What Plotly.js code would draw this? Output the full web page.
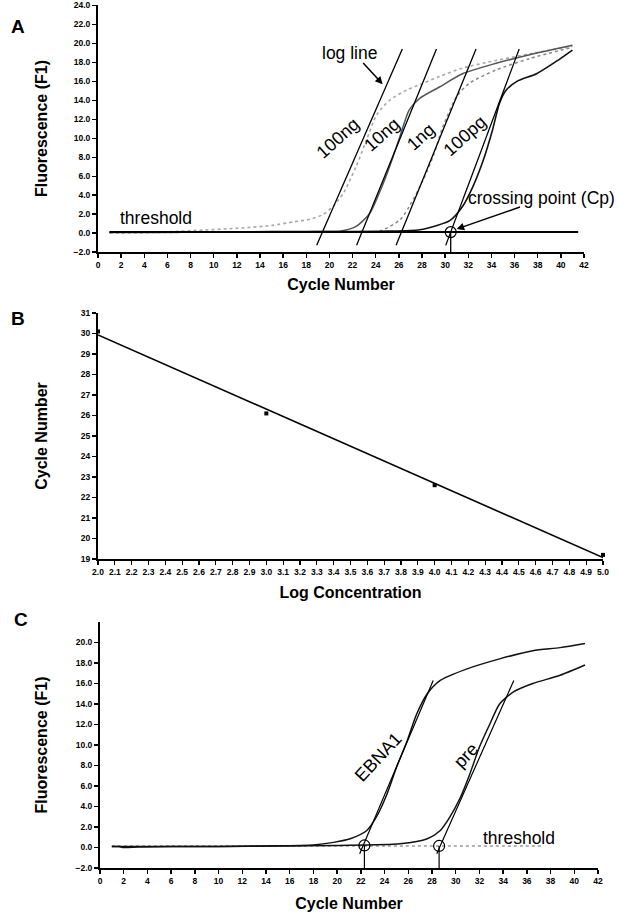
<!DOCTYPE html>
<html>
<head>
<meta charset="utf-8">
<script src="https://cdn.plot.ly/plotly-3.0.1.min.js"></script>
<style>
html,body{margin:0;padding:0;background:#fff;}
#chart{width:619px;height:918px;}
</style>
</head>
<body>
<div id="chart"></div>
<script>
// ---------- Panel A: amplification curves (cycle vs fluorescence) ----------
const cycA_100ng = [1, 4, 8, 12, 15, 17, 18.3, 19.45, 20.3, 21.2, 22.3, 23.2, 24.1, 25.2, 26.7, 28.1, 29.5, 31.5, 34.4, 37.3, 41];
const fA_100ng   = [0, 0.05, 0.25, 0.5, 0.8, 1.2, 1.45, 1.95, 2.8, 4.2, 7.0, 9.8, 12.5, 14.0, 15.1, 15.8, 16.5, 17.4, 18.2, 18.9, 19.7];
const cycA_10ng  = [1, 5, 10, 15, 19, 20.9, 22.3, 23.5, 24.3, 25.2, 26.1, 26.9, 27.8, 29.5, 31.5, 34.4, 37.3, 41];
const fA_10ng    = [0.05, 0.05, 0.1, 0.1, 0.15, 0.2, 0.7, 2.1, 4.2, 7.0, 10.2, 13.0, 14.2, 15.4, 16.8, 17.9, 18.8, 19.8];
const cycA_1ng   = [1, 5, 10, 15, 20, 24.3, 26.1, 26.9, 28.1, 29.0, 29.8, 31.0, 32.1, 34.4, 37.3, 41];
const fA_1ng     = [0.05, 0.05, 0.1, 0.1, 0.15, 0.2, 1.4, 2.8, 5.6, 8.2, 11.2, 14.4, 15.8, 17.2, 18.4, 19.6];
const cycA_100pg = [1, 5, 10, 15, 20, 25, 27.8, 29.3, 30.4, 31.5, 32.4, 33.3, 34.1, 34.7, 35.3, 36.2, 37.9, 39.6, 41];
const fA_100pg   = [0.1, 0.1, 0.1, 0.15, 0.15, 0.2, 0.35, 0.8, 1.3, 2.8, 4.9, 7.7, 10.9, 13.7, 15.1, 16.0, 16.8, 18.1, 19.3];
const thresholdA_cyc = [1, 41.5];
const thresholdA_f   = [0.1, 0.1];
const logLineA_start = [18.9, 22.35, 25.76, 30.05];
const logLineA_end   = [26.3, 29.25, 32.67, 36.4];
const logLineA_f     = [-1.3, 19.4];
const logLineA_names = ['100ng', '10ng', '1ng', '100pg'];
const cpA_cyc = 30.48, cpA_f = 0.1;
const tickValsA_y = [-2, 0, 2, 4, 6, 8, 10, 12, 14, 16, 18, 20, 22, 24];

// ---------- Panel B: standard curve ----------
const logConc  = [2.0, 3.0, 4.0, 5.0];
const cpCycle  = [30.1, 26.1, 22.6, 19.2];

// ---------- Panel C ----------
const cycC_EBNA1 = [1, 1.6, 2, 3.2, 6, 10, 14, 18, 19.7, 21.1, 22.5, 23.3, 24.2, 25.0, 25.9, 26.7, 27.6, 28.7, 30.9, 33.7, 36.5, 38.8, 40.9];
const fC_EBNA1   = [0.1, 0.1, 0.0, 0.05, 0.1, 0.1, 0.15, 0.25, 0.5, 0.85, 1.66, 2.96, 5.2, 7.8, 10.4, 13.0, 15.0, 16.3, 17.4, 18.4, 19.2, 19.5, 19.9];
const cycC_pre   = [1, 5, 10, 15, 20, 25.3, 27.6, 28.7, 29.5, 30.4, 31.2, 32.0, 32.9, 33.7, 34.9, 36.5, 38.8, 40.9];
const fC_pre     = [0.1, 0.1, 0.1, 0.15, 0.2, 0.36, 0.85, 1.66, 2.96, 4.9, 7.2, 9.8, 12.1, 14.0, 15.2, 16.0, 16.8, 17.8];
const logLineC_start = [21.9, 28.4];
const logLineC_end   = [28.1, 34.9];
const logLineC_f     = [-0.6, 16.3];
const cpC_cyc = [22.3, 28.6];
const cpC_f   = [0.2, 0.15];
const thresholdC_cyc = [1, 37.4];
const thresholdC_f   = [0.15, 0.15];
const tickValsC_y = [-2, 0, 2, 4, 6, 8, 10, 12, 14, 16, 18, 20];

// least-squares fit for panel B
function linfit(xs, ys){
  const n = xs.length;
  const mx = xs.reduce((a,b)=>a+b,0)/n, my = ys.reduce((a,b)=>a+b,0)/n;
  let sxy=0, sxx=0;
  for(let i=0;i<n;i++){ sxy+=(xs[i]-mx)*(ys[i]-my); sxx+=(xs[i]-mx)**2; }
  const m = sxy/sxx; return {m:m, b:my-m*mx};
}
const fit = linfit(logConc, cpCycle);
const fitX = [logConc[0], logConc[logConc.length-1]];
const fitY = fitX.map(x=>fit.m*x+fit.b);

const traces = [];
// A
traces.push({x:cycA_100ng, y:fA_100ng, mode:'lines', line:{color:'#a8a8a8', width:1.6, dash:'dot', shape:'spline', smoothing:0.7}, xaxis:'x', yaxis:'y'});
traces.push({x:cycA_10ng, y:fA_10ng, mode:'lines', line:{color:'#555', width:1.5, shape:'spline', smoothing:0.7}, xaxis:'x', yaxis:'y'});
traces.push({x:cycA_1ng, y:fA_1ng, mode:'lines', line:{color:'#888', width:1.5, dash:'dot', shape:'spline', smoothing:0.7}, xaxis:'x', yaxis:'y'});
traces.push({x:cycA_100pg, y:fA_100pg, mode:'lines', line:{color:'#111', width:1.6, shape:'spline', smoothing:0.7}, xaxis:'x', yaxis:'y'});
traces.push({x:thresholdA_cyc, y:thresholdA_f, mode:'lines', line:{color:'#000', width:2}, xaxis:'x', yaxis:'y'});
for(let i=0;i<logLineA_start.length;i++){
  traces.push({x:[logLineA_start[i], logLineA_end[i]], y:logLineA_f, mode:'lines', line:{color:'#000', width:1.3}, xaxis:'x', yaxis:'y', name:logLineA_names[i]});
}
traces.push({x:[cpA_cyc, cpA_cyc], y:[cpA_f, -2], mode:'lines', line:{color:'#000', width:1.3}, xaxis:'x', yaxis:'y'});
traces.push({x:[cpA_cyc], y:[cpA_f], mode:'markers', marker:{symbol:'circle-open', size:11, color:'#000', line:{width:1.2}}, xaxis:'x', yaxis:'y'});
// B
traces.push({x:fitX, y:fitY, mode:'lines', line:{color:'#000', width:1.6}, xaxis:'x2', yaxis:'y2', cliponaxis:false});
traces.push({x:logConc, y:cpCycle, mode:'markers', marker:{symbol:'square', size:4, color:'#000'}, xaxis:'x2', yaxis:'y2', cliponaxis:false});
// C
traces.push({x:thresholdC_cyc, y:thresholdC_f, mode:'lines', line:{color:'#999', width:1.5, dash:'dot'}, xaxis:'x3', yaxis:'y3'});
traces.push({x:cycC_EBNA1, y:fC_EBNA1, mode:'lines', line:{color:'#111', width:1.5, shape:'spline', smoothing:0.7}, xaxis:'x3', yaxis:'y3'});
traces.push({x:cycC_pre, y:fC_pre, mode:'lines', line:{color:'#111', width:1.5, shape:'spline', smoothing:0.7}, xaxis:'x3', yaxis:'y3'});
for(let i=0;i<logLineC_start.length;i++){
  traces.push({x:[logLineC_start[i], logLineC_end[i]], y:logLineC_f, mode:'lines', line:{color:'#000', width:1.2}, xaxis:'x3', yaxis:'y3'});
  traces.push({x:[cpC_cyc[i], cpC_cyc[i]], y:[cpC_f[i], -2], mode:'lines', line:{color:'#000', width:1.2}, xaxis:'x3', yaxis:'y3'});
}
traces.push({x:cpC_cyc, y:cpC_f, mode:'markers', marker:{symbol:'circle-open', size:11, color:'#000', line:{width:1.2}}, xaxis:'x3', yaxis:'y3'});

const W = 619, H = 918;
const tickFont = {family:'Liberation Sans, Arial, sans-serif', size:8.5, color:'#000', weight:'bold'};
const titleFont = {family:'Liberation Sans, Arial, sans-serif', size:16, color:'#000', weight:'bold'};
function ax(extra){
  return Object.assign({showline:true, linecolor:'#000', linewidth:2, ticks:'outside', ticklen:4, tickwidth:1.3,
    tickcolor:'#000', showgrid:false, zeroline:false, tickfont:tickFont, automargin:false, fixedrange:true}, extra);
}
function fromTop(px){ return (H-px)/H; }

const txtFont = {family:'Liberation Sans, Arial, sans-serif', size:17.5, color:'#000'};
const rotFont = {family:'Liberation Sans, Arial, sans-serif', size:18, color:'#000'};
const annotations = [
  {xref:'paper', yref:'paper', x:9/W, y:fromTop(14), text:'<b>A</b>', showarrow:false, font:{family:'Liberation Sans, Arial', size:19, color:'#000'}},
  {xref:'paper', yref:'paper', x:9/W, y:fromTop(318), text:'<b>B</b>', showarrow:false, font:{family:'Liberation Sans, Arial', size:19, color:'#000'}},
  {xref:'paper', yref:'paper', x:12/W, y:fromTop(632), text:'<b>C</b>', showarrow:false, font:{family:'Liberation Sans, Arial', size:19, color:'#000'}},
  // panel A texts
  {xref:'x', yref:'y', x:5.0, y:1.6, text:'threshold', showarrow:false, font:txtFont},
  {xref:'x', yref:'y', x:21.75, y:19.0, text:'log line', showarrow:false, font:txtFont},
  {xref:'x', yref:'y', x:24.6, y:15.7, ax:22.8, ay:18.1, axref:'x', ayref:'y', text:'', showarrow:true, arrowhead:2, arrowsize:1, arrowwidth:1.5, arrowcolor:'#000'},
  {xref:'x', yref:'y', x:20.76, y:10.0, text:logLineA_names[0], textangle:-42, showarrow:false, font:rotFont},
  {xref:'x', yref:'y', x:24.5, y:10.35, text:logLineA_names[1], textangle:-42, showarrow:false, font:rotFont},
  {xref:'x', yref:'y', x:27.9, y:10.1, text:logLineA_names[2], textangle:-42, showarrow:false, font:rotFont},
  {xref:'x', yref:'y', x:31.7, y:10.2, text:logLineA_names[3], textangle:-42, showarrow:false, font:rotFont},
  {xref:'x', yref:'y', x:38.3, y:3.7, text:'crossing point (Cp)', showarrow:false, font:txtFont},
  {xref:'x', yref:'y', x:31.0, y:0.42, ax:36.6, ay:2.8, axref:'x', ayref:'y', text:'', showarrow:true, arrowhead:2, arrowsize:1, arrowwidth:1.5, arrowcolor:'#000'},
  // panel C texts
  {xref:'x3', yref:'y3', x:23.5, y:8.8, text:'EBNA1', textangle:-47, showarrow:false, font:rotFont},
  {xref:'x3', yref:'y3', x:30.9, y:9.0, text:'pre', textangle:-47, showarrow:false, font:rotFont},
  {xref:'x3', yref:'y3', x:35.3, y:0.95, text:'threshold', showarrow:false, font:txtFont}
];

const layout = {
  width:W, height:H, margin:{l:0, r:0, t:0, b:0}, paper_bgcolor:'#fff', plot_bgcolor:'#fff', showlegend:false,
  font:{family:'Liberation Sans, Arial, sans-serif', color:'#000'},
  xaxis: ax({domain:[98/W, 584/W], range:[0,42], dtick:2, tick0:0, anchor:'y',
    title:{text:'Cycle Number', font:titleFont, standoff:10}}),
  yaxis: ax({domain:[fromTop(252), fromTop(5)], range:[-2,24.05], tickvals:tickValsA_y, tickformat:'.1f', anchor:'x',
    title:{text:'Fluorescence (F1)', font:titleFont, standoff:22}}),
  xaxis2: ax({domain:[98/W, 603/W], range:[2,5], dtick:0.1, tick0:2, tickformat:'.1f', anchor:'y2',
    title:{text:'Log Concentration', font:titleFont, standoff:11}}),
  yaxis2: ax({domain:[fromTop(559), fromTop(313)], range:[19,31], dtick:1, tick0:19, anchor:'x2',
    title:{text:'Cycle Number', font:titleFont, standoff:29}}),
  xaxis3: ax({domain:[100/W, 598/W], range:[0,42], dtick:2, tick0:0, anchor:'y3',
    title:{text:'Cycle Number', font:titleFont, standoff:13}}),
  yaxis3: ax({domain:[fromTop(868), fromTop(622)], range:[-2,22], tickvals:tickValsC_y, tickformat:'.1f', anchor:'x3',
    title:{text:'Fluorescence (F1)', font:titleFont, standoff:24}}),
  annotations: annotations
};

Plotly.newPlot('chart', traces, layout, {staticPlot:true, displayModeBar:false});
</script>
</body>
</html>
